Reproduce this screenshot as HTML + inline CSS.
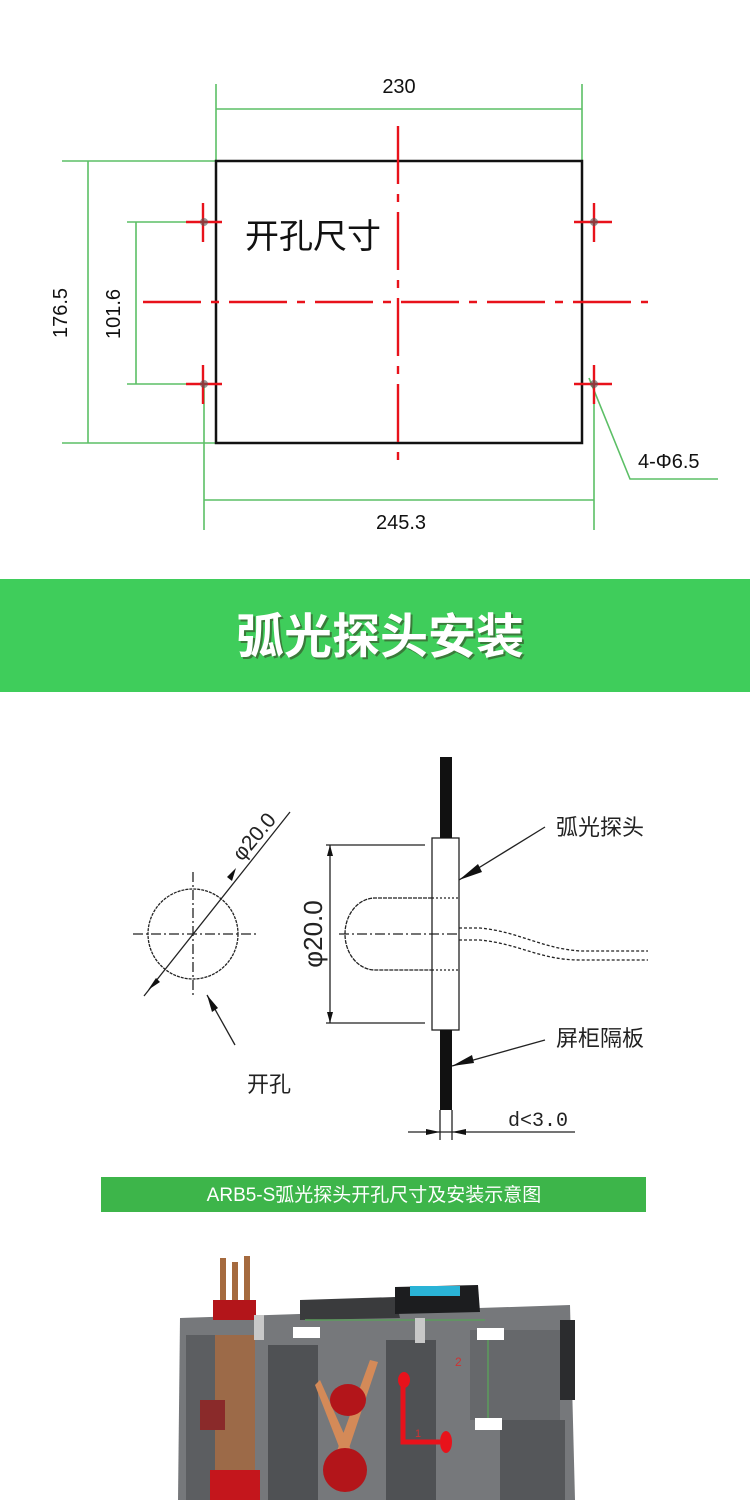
<!DOCTYPE html>
<html><head><meta charset="utf-8"><style>
html,body{margin:0;padding:0;background:#fff}
body{width:750px;height:1500px;overflow:hidden;position:relative;font-family:"Liberation Sans","Noto Sans CJK SC",sans-serif}
svg{position:absolute;left:0;top:0}
</style></head><body>
<svg width="750" height="1500" viewBox="0 0 750 1500" xmlns="http://www.w3.org/2000/svg" font-family="Liberation Sans, Noto Sans CJK SC, sans-serif">
<g stroke="#5cbf66" stroke-width="1.6" fill="none">
<line x1="216" y1="84" x2="216" y2="162"/>
<line x1="582" y1="84" x2="582" y2="162"/>
<line x1="216" y1="109" x2="582" y2="109"/>
<line x1="62" y1="161" x2="216" y2="161"/>
<line x1="62" y1="443" x2="216" y2="443"/>
<line x1="88" y1="161" x2="88" y2="443"/>
<line x1="127" y1="222" x2="203" y2="222"/>
<line x1="127" y1="384" x2="203" y2="384"/>
<line x1="136" y1="222" x2="136" y2="384"/>
<line x1="204" y1="384" x2="204" y2="530"/>
<line x1="594" y1="384" x2="594" y2="530"/>
<line x1="204" y1="500" x2="594" y2="500"/>
<polyline points="589,378 630,479 718,479"/>
</g>
<rect x="216" y="161" width="366" height="282" fill="none" stroke="#111" stroke-width="2.5"/>
<g stroke="#e8121b" stroke-width="2.4" fill="none">
<line x1="398" y1="126" x2="398" y2="470" stroke-dasharray="58,10,8,10"/>
<line x1="143" y1="302" x2="648" y2="302" stroke-dasharray="58,10,8,10"/>
<line x1="186" y1="222" x2="222" y2="222"/><line x1="203" y1="203" x2="203" y2="242"/>
<line x1="186" y1="384" x2="222" y2="384"/><line x1="203" y1="365" x2="203" y2="404"/>
<line x1="574" y1="222" x2="612" y2="222"/><line x1="594" y1="203" x2="594" y2="242"/>
<line x1="574" y1="384" x2="612" y2="384"/><line x1="594" y1="365" x2="594" y2="404"/>
</g>
<g fill="#555" opacity="0.6"><circle cx="204" cy="222" r="4"/><circle cx="204" cy="384" r="4"/><circle cx="594" cy="222" r="4"/><circle cx="594" cy="384" r="4"/></g>
<g font-size="20" fill="#111">
<text x="399" y="93" text-anchor="middle">230</text>
<text x="401" y="529" text-anchor="middle">245.3</text>
<text x="638" y="468">4-Φ6.5</text>
<text transform="translate(67,313) rotate(-90)" text-anchor="middle">176.5</text>
<text transform="translate(120,314) rotate(-90)" text-anchor="middle">101.6</text>
<text x="245" y="248" font-size="34">开孔尺寸</text>
</g>
<rect x="0" y="579" width="750" height="113" fill="#3fcd5b"/>
<text x="382" y="655" font-size="48" font-weight="bold" fill="#3a7a3a" text-anchor="middle">弧光探头安装</text>
<text x="380" y="653" font-size="48" font-weight="bold" fill="#fff" text-anchor="middle">弧光探头安装</text>
<g stroke="#222" stroke-width="1.3" fill="none">
<circle cx="193" cy="934" r="45" stroke-dasharray="3,1"/>
<line x1="133" y1="934" x2="258" y2="934" stroke-dasharray="10,3,2,3"/>
<line x1="193" y1="872" x2="193" y2="998" stroke-dasharray="10,3,2,3"/>
<line x1="144" y1="996" x2="290" y2="812"/>
<line x1="235" y1="1045" x2="207" y2="995"/>
<line x1="326" y1="845" x2="425" y2="845"/>
<line x1="326" y1="1023" x2="425" y2="1023"/>
<line x1="330" y1="845" x2="330" y2="1023"/>
<rect x="432" y="838" width="27" height="192" fill="#fff"/>
<path d="M432 898 H375 A30 36 0 0 0 375 970 H432" stroke-dasharray="4,1"/>
<line x1="432" y1="898" x2="459" y2="898" stroke-dasharray="2,2"/>
<line x1="432" y1="970" x2="459" y2="970" stroke-dasharray="2,2"/>
<line x1="339" y1="934" x2="459" y2="934" stroke-dasharray="10,3,2,3"/>
<path d="M459 928 H480 C520 932 540 948 580 951 H648" stroke-dasharray="3,2"/>
<path d="M459 940 H480 C520 944 540 960 580 960 H648" stroke-dasharray="3,2"/>
<line x1="459" y1="880" x2="545" y2="827"/>
<line x1="452" y1="1066" x2="545" y2="1040"/>
<line x1="440" y1="1110" x2="440" y2="1140"/>
<line x1="452" y1="1110" x2="452" y2="1140"/>
<line x1="408" y1="1132" x2="575" y2="1132"/>
</g>
<rect x="440" y="757" width="12" height="81" fill="#111"/>
<rect x="440" y="1030" width="12" height="80" fill="#111"/>
<g fill="#111">
<polygon points="148,990 156,978 160,982"/><polygon points="236,868 227,877 232,881"/>
<polygon points="207,995 212,1012 218,1008"/>
<polygon points="459,880 478,864 482,872"/><polygon points="452,1066 472,1055 474,1063"/>
<polygon points="330,845 327,856 333,856"/><polygon points="330,1023 327,1012 333,1012"/>
<polygon points="440,1132 426,1129 426,1135"/><polygon points="452,1132 466,1129 466,1135"/>
</g>
<g font-size="22" fill="#222">
<text x="556" y="835">弧光探头</text>
<text x="556" y="1046">屏柜隔板</text>
<text x="247" y="1092">开孔</text>
<text x="508" y="1126" font-family="Liberation Mono, monospace" font-size="20">d&lt;3.0</text>
<text transform="translate(242,862) rotate(-50)" font-size="21">φ20.0</text>
<text transform="translate(322,934) rotate(-90)" font-size="26" text-anchor="middle">φ20.0</text>
</g>
<rect x="101" y="1177" width="545" height="35" fill="#3db54a"/>
<text x="374" y="1201" font-size="19" fill="#fff" text-anchor="middle">ARB5-S弧光探头开孔尺寸及安装示意图</text>
<polygon points="180,1318 570,1305 575,1500 178,1500" fill="#76787b"/>
<polygon points="300,1300 395,1297 400,1318 300,1320" fill="#3a3b3d"/>
<polygon points="395,1287 478,1285 480,1312 395,1314" fill="#1c1d1f"/>
<rect x="410" y="1286" width="50" height="10" fill="#2ab3d6"/>
<rect x="186" y="1335" width="65" height="165" fill="#5c5e61"/>
<rect x="268" y="1345" width="50" height="155" fill="#4f5154"/>
<rect x="386" y="1340" width="50" height="160" fill="#4f5154"/>
<rect x="470" y="1330" width="90" height="90" fill="#66686b"/>
<rect x="500" y="1420" width="65" height="80" fill="#55575a"/>
<rect x="560" y="1320" width="15" height="80" fill="#2b2c2e"/>
<rect x="220" y="1258" width="6" height="50" fill="#a56a3e"/>
<rect x="232" y="1262" width="6" height="46" fill="#a56a3e"/>
<rect x="244" y="1256" width="6" height="52" fill="#a56a3e"/>
<rect x="213" y="1300" width="43" height="20" fill="#b3151a"/>
<rect x="215" y="1335" width="40" height="165" fill="#9c6a48"/>
<rect x="210" y="1470" width="50" height="30" fill="#c4161c"/>
<rect x="200" y="1400" width="25" height="30" fill="#8a2a2a"/>
<polygon points="320,1380 360,1470 350,1475 315,1385" fill="#d48a58"/>
<polygon points="370,1360 330,1470 340,1475 378,1362" fill="#d48a58"/>
<ellipse cx="348" cy="1400" rx="18" ry="16" fill="#b3151a"/>
<ellipse cx="345" cy="1470" rx="22" ry="22" fill="#b3151a"/>
<path d="M403 1375 V1442 H440" stroke="#e8121b" stroke-width="5" fill="none"/>
<ellipse cx="404" cy="1380" rx="6" ry="8" fill="#e8121b"/>
<ellipse cx="446" cy="1442" rx="6" ry="11" fill="#e8121b"/>
<line x1="305" y1="1320" x2="485" y2="1320" stroke="#5c9c5c" stroke-width="1.5"/>
<line x1="488" y1="1340" x2="488" y2="1420" stroke="#5c9c5c" stroke-width="1.5"/>
<rect x="293" y="1327" width="27" height="11" fill="#fff"/>
<rect x="477" y="1328" width="27" height="12" fill="#fff"/>
<rect x="475" y="1418" width="27" height="12" fill="#fff"/>
<rect x="254" y="1315" width="10" height="25" fill="#c8c8c8"/>
<rect x="415" y="1318" width="10" height="25" fill="#c8c8c8"/>
<text x="455" y="1366" font-size="12" fill="#c33">2</text>
<text x="415" y="1437" font-size="11" fill="#c33">1</text>
</svg>
</body></html>
